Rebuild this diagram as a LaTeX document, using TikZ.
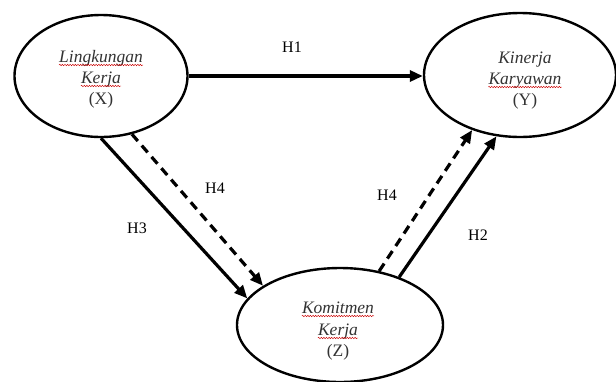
\documentclass[tikz,border=0pt]{standalone}
\usepackage{fontspec}
\setmainfont{Liberation Serif}
\usetikzlibrary{shapes.geometric,arrows.meta,decorations.pathmorphing}
\tikzset{
  construct/.style={ellipse, draw=black, line width=2.4pt, inner sep=0pt},
  ctext/.style={anchor=base, inner sep=0pt, font=\itshape\fontsize{17.5}{21}\selectfont, text=black!80},
  cletter/.style={anchor=base, inner sep=0pt, font=\fontsize{17.5}{21}\selectfont, text=black!80},
  spell/.style={draw=red!80!black, line width=0.45pt, decorate, decoration={snake, amplitude=0.7pt, segment length=2.6pt}},
  hlabel/.style={font=\fontsize{16}{18}\selectfont, text=black},
  solidarrow/.style={line width=3.2pt, -{Triangle[length=13pt,width=11pt]}},
  dasharrow/.style={line width=3.2pt, dash pattern=on 9pt off 6pt, -{Triangle[length=13pt,width=11pt]}}
}
\begin{document}
\begin{tikzpicture}[x=1pt,y=-1pt]
\useasboundingbox[fill=white] (0,0) rectangle (616,381);
% constructs
\node[construct, minimum width=173pt, minimum height=122pt] (X) at (101,76) {};
\node[construct, minimum width=192pt, minimum height=124pt] (Y) at (520,75) {};
\node[construct, minimum width=206pt, minimum height=114pt] (Z) at (340,325) {};
% texts
\node[ctext] (x1) at (101,62) {Lingkungan};
\node[ctext] (x2) at (101,83) {Kerja};
\node[cletter] (x3) at (101,104) {(X)};
\node[ctext] (y1) at (525,63) {Kinerja};
\node[ctext] (y2) at (525,84) {Karyawan};
\node[cletter] (y3) at (525,105) {(Y)};
\node[ctext] (z1) at (338,313) {Komitmen};
\node[ctext] (z2) at (338,335) {Kerja};
\node[cletter] (z3) at (338,356) {(Z)};
% spell-check underlines
\foreach \w in {x1,x2,y2,z1,z2}
  \draw[spell] ([yshift=-3pt]\w.base west) -- ([yshift=-3pt]\w.base east);
% connectors
\draw[solidarrow] (X.east) -- (X.east -| Y.west);
\draw[solidarrow] (X.-90) -- (Z.164);
\draw[dasharrow] (X.-62.6) -- (Z.153);
\draw[dasharrow] (Z.54) -- (Y.-131);
\draw[solidarrow] (Z.39) -- (Y.-111.6);
% labels
\node[hlabel] (h1) at (292,47) {H1};
\node[hlabel] (h4a) at (215,188) {H4};
\node[hlabel] (h3) at (137,228) {H3};
\node[hlabel] (h4b) at (387,195) {H4};
\node[hlabel] (h2) at (478,235) {H2};
\end{tikzpicture}
\end{document}
